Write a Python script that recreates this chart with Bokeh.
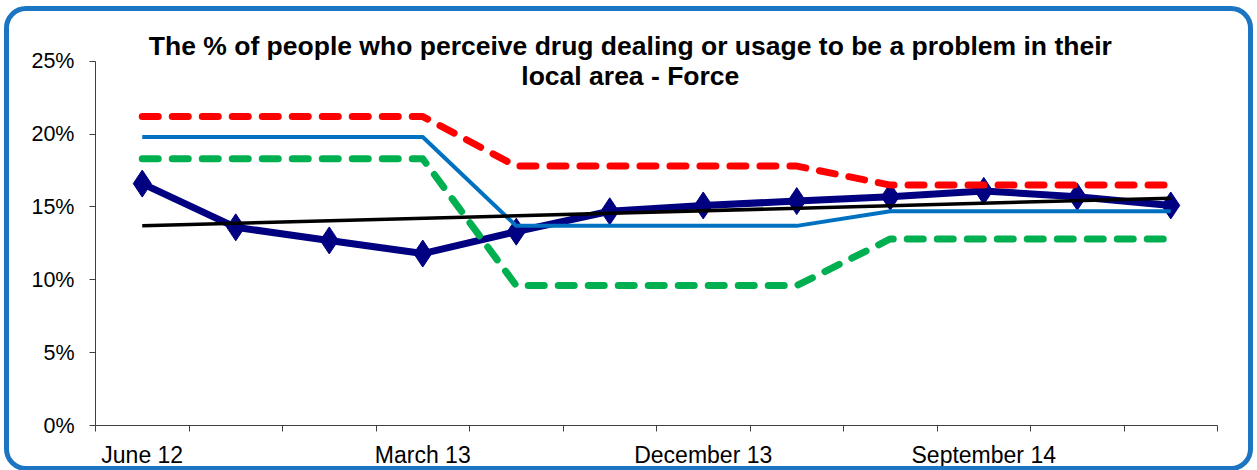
from bokeh.plotting import figure
from bokeh.models import FixedTicker, Range1d, Label, InlineStyleSheet
from bokeh.embed import file_html
from bokeh.resources import INLINE

# ---- data ----
periods = ["June 12", "September 12", "December 12", "March 13",
           "June 13", "September 13", "December 13", "March 14",
           "June 14", "September 14", "December 14", "March 15"]
labelled_periods = ["June 12", "March 13", "December 13", "September 14"]
force = [16.6, 13.6, 12.7, 11.8, 13.3, 14.7, 15.1, 15.4, 15.7, 16.1, 15.7, 15.1]
upper_limit = [21.2, 21.2, 21.2, 21.2, 17.8, 17.8, 17.8, 17.8, 16.5, 16.5, 16.5, 16.5]
baseline = [19.8, 19.8, 19.8, 19.8, 13.7, 13.7, 13.7, 13.7, 14.7, 14.7, 14.7, 14.7]
lower_limit = [18.3, 18.3, 18.3, 18.3, 9.6, 9.6, 9.6, 9.6, 12.8, 12.8, 12.8, 12.8]
trend_ends = [13.7, 15.6]
y_ticks = [0, 5, 10, 15, 20, 25]
title_lines = ["The % of people who perceive drug dealing or usage to be a problem in their",
               "local area - Force"]

xs = list(range(len(periods)))
trend_x = [xs[0], xs[-1]]

FONT = "Liberation Sans"

# layout (pixels): frame extends above the 25% line so the title can sit inside it
FRAME_TOP, AXIS_TOP, AXIS_BOTTOM = 20, 61, 428
y_end = y_ticks[-1] * (AXIS_BOTTOM - FRAME_TOP) / (AXIS_BOTTOM - AXIS_TOP)

p = figure(width=1257, height=470, output_backend="svg", toolbar_location=None,
           x_range=Range1d(-0.5, len(periods) - 0.5), y_range=Range1d(y_ticks[0], y_end),
           min_border_left=95, min_border_right=40, min_border_top=FRAME_TOP, min_border_bottom=43)
p.background_fill_color = "white"
p.border_fill_color = "white"
p.outline_line_color = None
p.xgrid.grid_line_color = None
p.ygrid.grid_line_color = None
p.stylesheets = [InlineStyleSheet(css="""
:host::after {
  content: "";
  position: absolute;
  left: 4px; top: 6px; right: 4px; bottom: -1px;
  border: 5px solid #1B75C2;
  border-radius: 22px;
  pointer-events: none;
  z-index: 100;
}
""")]

# y axis
p.yaxis.ticker = FixedTicker(ticks=y_ticks)
p.yaxis.bounds = (y_ticks[0], y_ticks[-1])
p.yaxis.major_label_overrides = {t: f"{t}%" for t in y_ticks}
p.yaxis.major_tick_out = 6
p.yaxis.major_tick_in = 0
p.yaxis.minor_tick_out = 0
p.yaxis.minor_tick_in = 0
p.yaxis.axis_line_color = "#404040"
p.yaxis.major_tick_line_color = "#404040"
p.yaxis.major_label_text_font = FONT
p.yaxis.major_label_text_font_size = "21.5px"
p.yaxis.major_label_text_color = "black"
p.yaxis.major_label_standoff = 15

# x axis
label_idx = [periods.index(s) for s in labelled_periods]
p.xaxis.ticker = FixedTicker(ticks=label_idx, minor_ticks=[i - 0.5 for i in range(len(periods) + 1)])
p.xaxis.major_label_overrides = {i: periods[i] for i in label_idx}
p.xaxis.major_tick_out = 0
p.xaxis.major_tick_in = 0
p.xaxis.minor_tick_out = 6
p.xaxis.minor_tick_in = 0
p.xaxis.axis_line_color = "#404040"
p.xaxis.minor_tick_line_color = "#404040"
p.xaxis.major_label_text_font = FONT
p.xaxis.major_label_text_font_size = "23px"
p.xaxis.major_label_text_color = "black"
p.xaxis.major_label_standoff = 10

# series
p.line(xs, force, line_color="#000080", line_width=7, line_join="round")
p.scatter(xs, force, marker="diamond", size=27, fill_color="#000080", line_color="#000080")
p.line(xs, upper_limit, line_color="#FF0000", line_width=7, line_dash="16 14", line_cap="round", line_join="round")
p.line(xs, baseline, line_color="#0070C0", line_width=4, line_join="round")
p.line(xs, lower_limit, line_color="#00B050", line_width=7, line_dash="16 14", line_cap="round", line_join="round")
p.line(trend_x, trend_ends, line_color="black", line_width=3.5)

# title
title_x = 5.22
for txt, ty in zip(title_lines, [26.02, 23.98]):
    p.add_layout(Label(x=title_x, y=ty, text=txt, text_align="center", text_baseline="middle",
                       text_font=FONT, text_font_style="bold", text_font_size="26.5px",
                       text_color="black"))

open("out.html", "w").write(file_html(p, INLINE))
